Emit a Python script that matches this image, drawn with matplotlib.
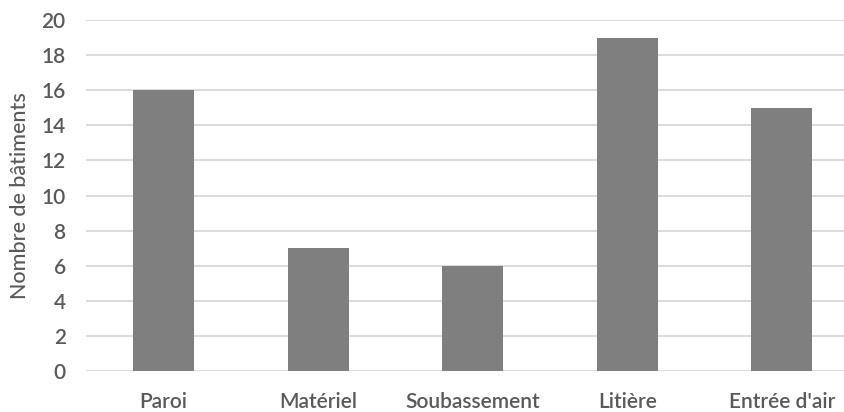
import matplotlib
matplotlib.use('Agg')
import matplotlib.pyplot as plt

# Données
categories = ['Paroi', 'Matériel', 'Soubassement', 'Litière', "Entrée d'air"]
nb_batiments = [16, 7, 6, 19, 15]
y_ticks = [0, 2, 4, 6, 8, 10, 12, 14, 16, 18, 20]

text_color = '#595959'
plt.rcParams['font.family'] = ['Lato', 'DejaVu Sans']

fig = plt.figure(figsize=(8.45, 4.12), dpi=100)
# l'axe dépasse un peu à droite, comme dans l'image d'origine (rognée)
ax = fig.add_axes([86.5 / 845, 1 - 371 / 412, 772.5 / 845, 351 / 412])

x = range(len(categories))
ax.bar(x, nb_batiments, width=0.395, color='#7f7f7f', zorder=3)

ax.set_xlim(-0.5, len(categories) - 0.5)
ax.set_ylim(0, 20)
ax.set_yticks(y_ticks)
ax.set_xticks(list(x))
ax.set_xticklabels(categories)
ax.yaxis.grid(True, color='#d9d9d9', linewidth=1.3, zorder=0)
ax.set_axisbelow(True)
for s in ax.spines.values():
    s.set_visible(False)
ax.tick_params(axis='both', length=0, labelsize=15, colors=text_color)
ax.tick_params(axis='y', pad=15)
ax.tick_params(axis='x', pad=15)
for lbl in ax.get_xticklabels() + ax.get_yticklabels():
    lbl.set_fontweight('semibold')
ax.set_ylabel('Nombre de bâtiments', fontsize=15.5, color=text_color,
              labelpad=8, fontweight='medium')

fig.savefig('out.png', dpi=100)
